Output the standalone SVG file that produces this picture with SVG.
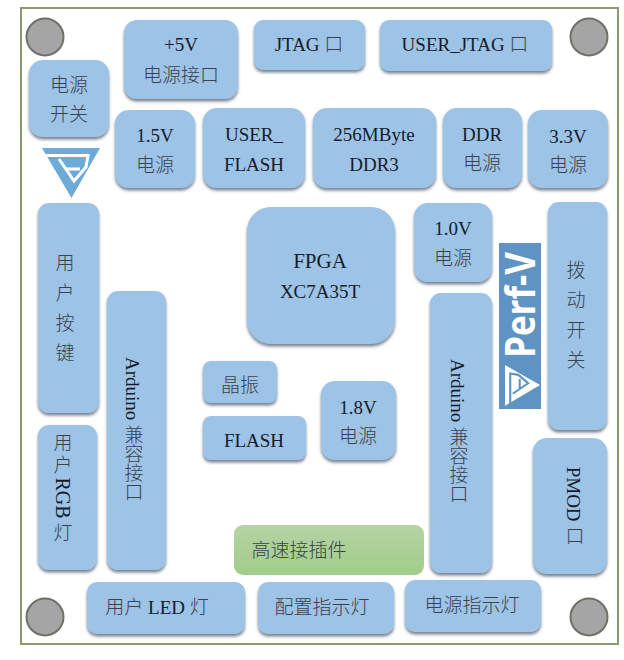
<svg xmlns="http://www.w3.org/2000/svg" width="624" height="660" viewBox="0 0 624 660">
<defs>
<filter id="shadow" x="-10%" y="-10%" width="120%" height="120%"><feDropShadow dx="0" dy="2.5" stdDeviation="1.5" flood-color="#4a5a6a" flood-opacity="0.75"/></filter>
<linearGradient id="green" x1="0" y1="0" x2="0" y2="1"><stop offset="0" stop-color="#b5d3a5"/><stop offset="1" stop-color="#a0cd88"/></linearGradient>
<path id="mark-outline" d="M42 148H100L71.500 198Z"/>
<path id="mark-cuts" d="M40 155.500H88L86 167L74 181L59 159M66 169H80"/>
</defs>
<style>
.n{fill:#9dc3e6;filter:url(#shadow)}
.t{font-family:"Liberation Serif","Noto Sans CJK SC",serif;font-size:19px;fill:#161c2a;text-anchor:middle}
.c{fill:#3a424e;font-weight:300}
.h{fill:#a5a5a5;stroke:#6f7168;stroke-width:2}
.v{writing-mode:vertical-rl;text-orientation:mixed}
.cut{fill:none;stroke-width:3}
</style>
<rect width="624" height="660" fill="#fff"/>
<rect x="21" y="8" width="597" height="636" fill="#fff" stroke="#8b9a70" stroke-width="2"/>
<g id="holes">
<circle class="h" cx="45" cy="37" r="18.500"/><circle class="h" cx="589" cy="37" r="18.500"/>
<circle class="h" cx="45" cy="617" r="18.500"/><circle class="h" cx="589" cy="617" r="18.500"/>
</g>
<g id="logo-small">
<use href="#mark-outline" fill="#6eaad8"/>
<use href="#mark-cuts" class="cut" stroke="#fff"/>
</g>
<g id="power-5v"><rect class="n" x="124" y="20" width="114" height="79" rx="13"/><text class="t" x="181" y="51">+5V</text><text class="t c" x="181" y="82">电源接口</text></g>
<g id="jtag"><rect class="n" x="254" y="20" width="111" height="50" rx="9"/><text class="t" x="309" y="51">JTAG <tspan class="c">口</tspan></text></g>
<g id="user-jtag"><rect class="n" x="380" y="20" width="172" height="51" rx="9"/><text class="t" x="465" y="51">USER_JTAG <tspan class="c">口</tspan></text></g>
<g id="power-switch"><rect class="n" x="29" y="60" width="80" height="77" rx="14"/><text class="t c" x="69" y="92">电源</text><text class="t c" x="69" y="121">开关</text></g>
<g id="power-15v"><rect class="n" x="115" y="110" width="80" height="78" rx="14"/><text class="t" x="155" y="142">1.5V</text><text class="t c" x="155" y="172">电源</text></g>
<g id="user-flash"><rect class="n" x="203" y="108" width="102" height="80" rx="14"/><text class="t" x="254" y="141">USER_</text><text class="t" x="254" y="171">FLASH</text></g>
<g id="ddr3"><rect class="n" x="313" y="108" width="123" height="80" rx="14"/><text class="t" x="374" y="141">256MByte</text><text class="t" x="374" y="171">DDR3</text></g>
<g id="ddr-power"><rect class="n" x="443" y="108" width="79" height="80" rx="14"/><text class="t" x="482" y="141">DDR</text><text class="t c" x="482" y="170">电源</text></g>
<g id="power-33v"><rect class="n" x="528" y="110" width="80" height="78" rx="14"/><text class="t" x="568" y="143">3.3V</text><text class="t c" x="568" y="172">电源</text></g>
<g id="user-keys"><rect class="n" x="38" y="203" width="61" height="210" rx="11"/><text class="t c" x="65" y="270">用</text><text class="t c" x="65" y="300">户</text><text class="t c" x="65" y="330">按</text><text class="t c" x="65" y="360">键</text></g>
<g id="arduino-left"><rect class="n" x="107" y="291" width="59" height="279" rx="11"/><text class="t v" x="132" y="429">Arduino <tspan class="c">兼容接口</tspan></text></g>
<g id="fpga"><rect class="n" x="247" y="207" width="148" height="137" rx="24"/><text class="t" x="320" y="268" style="font-size:21px">FPGA</text><text class="t" x="320" y="298">XC7A35T</text></g>
<g id="power-10v"><rect class="n" x="414" y="203" width="78" height="79" rx="14"/><text class="t" x="453" y="235">1.0V</text><text class="t c" x="453" y="265">电源</text></g>
<g id="arduino-right"><rect class="n" x="430" y="293" width="62" height="280" rx="11"/><text class="t v" x="457" y="431">Arduino <tspan class="c">兼容接口</tspan></text></g>
<g id="logo-side">
<rect x="499" y="243" width="42" height="166" fill="#5f93c3"/>
<text x="535" y="358" transform="rotate(-90 535 358)" textLength="106" lengthAdjust="spacingAndGlyphs" style="font-family:'Open Sans',sans-serif;font-weight:700;font-size:41px;fill:#fff">Perf-V</text>
<g transform="translate(505 385) rotate(-90) scale(.7) translate(-71.500 -148)">
<use href="#mark-outline" fill="#fff"/>
<use href="#mark-cuts" class="cut" stroke="#5f93c3"/>
</g>
</g>
<g id="dip-switch"><rect class="n" x="548" y="202" width="59" height="228" rx="11"/><text class="t c" x="576" y="277">拨</text><text class="t c" x="576" y="307">动</text><text class="t c" x="576" y="337">开</text><text class="t c" x="576" y="367">关</text></g>
<g id="crystal"><rect class="n" x="203" y="361" width="74" height="42" rx="8"/><text class="t c" x="240" y="392">晶振</text></g>
<g id="flash"><rect class="n" x="203" y="416" width="103" height="44" rx="8"/><text class="t" x="254" y="447">FLASH</text></g>
<g id="power-18v"><rect class="n" x="321" y="381" width="75" height="79" rx="14"/><text class="t" x="358" y="414">1.8V</text><text class="t c" x="358" y="443">电源</text></g>
<g id="pmod"><rect class="n" x="533" y="438" width="74" height="136" rx="14"/><text class="t v" x="573" y="506">PMOD <tspan class="c">口</tspan></text></g>
<g id="user-rgb"><rect class="n" x="38" y="425" width="59" height="145" rx="11"/><text class="t c" x="63" y="450">用</text><text class="t c" x="63" y="472">户</text><text class="t v" x="63" y="498" style="font-size:20px">RGB</text><text class="t c" x="63" y="540">灯</text></g>
<g id="hs-connector"><rect x="234" y="525" width="190" height="50" rx="9" fill="url(#green)"/><text class="t c" x="299" y="557">高速接插件</text></g>
<g id="user-led"><rect class="n" x="87" y="582" width="158" height="52" rx="10"/><text class="t" x="157" y="614"><tspan class="c">用户</tspan> LED <tspan class="c">灯</tspan></text></g>
<g id="config-led"><rect class="n" x="258" y="582" width="136" height="52" rx="10"/><text class="t c" x="322" y="614">配置指示灯</text></g>
<g id="power-led"><rect class="n" x="405" y="580" width="136" height="52" rx="10"/><text class="t c" x="472" y="612">电源指示灯</text></g>
</svg>
